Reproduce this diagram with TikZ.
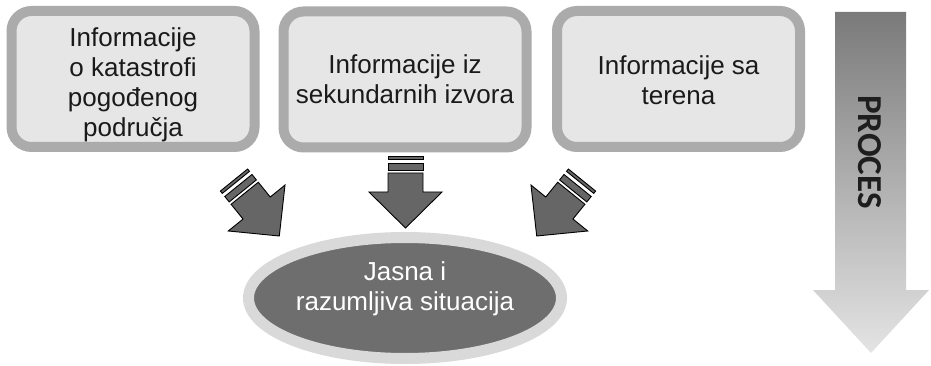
\documentclass[tikz,border=0pt]{standalone}
\usepackage{fontspec}
\setmainfont{Liberation Sans}
\newfontfamily\carlito{Carlito}
\usetikzlibrary{shapes.geometric}
\definecolor{boxborder}{HTML}{ABABAB}
\definecolor{boxfill}{HTML}{E6E6E6}
\definecolor{ringgray}{HTML}{D9D9D9}
\definecolor{ellgray}{HTML}{6E6E6E}
\definecolor{arrowgray}{HTML}{666666}
\definecolor{textdark}{HTML}{1A1A1A}
\tikzset{
  infobox/.style={draw=boxborder, fill=boxfill, line width=10pt, rounded corners=20pt,
    minimum width=243pt, minimum height=136pt, inner sep=0pt},
  boxtext/.style={inner sep=0pt, align=center, text=textdark,
    font=\fontsize{26}{30}\selectfont},
  situation/.style={ellipse, draw=ringgray, fill=ellgray, line width=11pt,
    minimum width=313pt, minimum height=121pt, inner sep=0pt},
  sittext/.style={inner sep=0pt, align=center, text=white,
    font=\fontsize{26}{30}\selectfont},
  blockarrow/.style={fill=arrowgray, draw=black, line width=0.9pt, line join=miter},
}
\newcommand{\drawblockarrow}[3]{%
  \begin{scope}[shift={(#1,#2)}, rotate=#3]
    \path[blockarrow] (0,0) -- (36.5,36) -- (17.5,36) -- (17.5,55) -- (-17.5,55)
      -- (-17.5,36) -- (-36.5,36) -- cycle;
    \path[blockarrow] (-17.5,58) rectangle (17.5,65);
    \path[blockarrow] (-17.5,69) rectangle (17.5,72);
  \end{scope}}
\begin{document}
\begin{tikzpicture}[x=1pt, y=1pt]
  \useasboundingbox (0,0) rectangle (931,-366);
  % info boxes
  \node[infobox] (b1) at (133,-79) {};
  \node[boxtext] (t1) at ([yshift=-6pt]b1.center) {Informacije\\o katastrofi\\pogođenog\\područja};
  \node[infobox] (b2) at (405,-79.5) {};
  \node[boxtext] (t2) at (b2.center) {Informacije iz\\sekundarnih izvora};
  \node[infobox] (b3) at (678.5,-79) {};
  \node[boxtext] (t3) at ([yshift=-1.5pt]b3.center) {Informacije sa\\terena};
  % situation ellipse
  \node[situation] (sit) at (405,-298) {};
  \node[sittext] (st) at ([yshift=9.5pt]sit.center) {Jasna i\\razumljiva situacija};
  % block arrows
  \drawblockarrow{279.3}{-236}{39}
  \drawblockarrow{405.5}{-228}{0}
  \drawblockarrow{536.7}{-236}{-39}
  % process arrow
  \shade[top color={rgb,255:red,122;green,122;blue,122}, bottom color={rgb,255:red,228;green,228;blue,228}]
    (835,-12) -- (906,-12) -- (906,-290) -- (929,-290) -- (871,-353) -- (813,-290)
    -- (835,-290) -- cycle;
  \node[rotate=-90, inner sep=0pt, text={rgb,255:red,30;green,30;blue,30},
    font=\carlito\bfseries\fontsize{35}{40}\selectfont] (proc) at (869.5,-152) {PROCES};
\end{tikzpicture}
\end{document}
